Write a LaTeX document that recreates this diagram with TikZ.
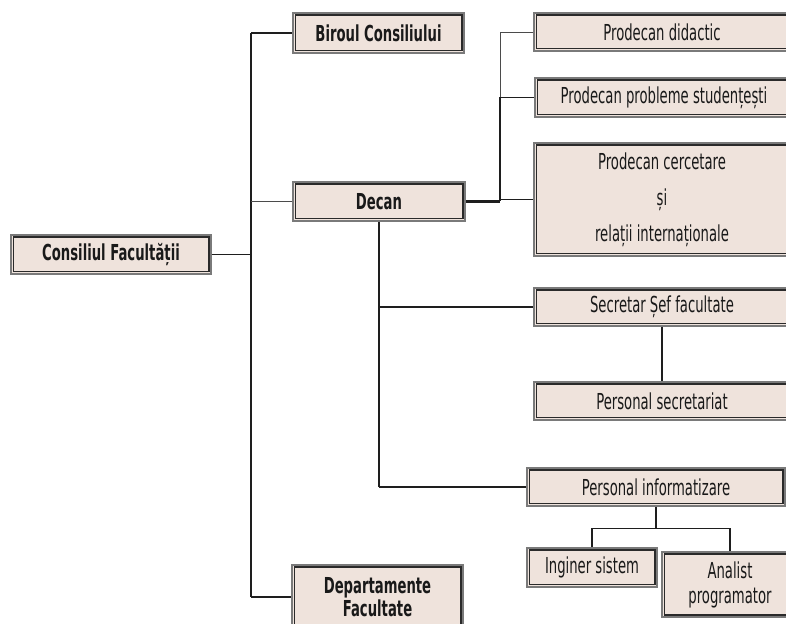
\documentclass[tikz,border=0pt]{standalone}
\usepackage{fontspec}
\setmainfont{DejaVu Sans}[FakeStretch=0.6]
\definecolor{boxfill}{HTML}{EFE3DC}
\definecolor{outerline}{HTML}{7A7A7A}
\definecolor{innerline}{HTML}{2A2A2A}
\definecolor{wire}{HTML}{1E1E1E}
\begin{document}
\begin{tikzpicture}[x=1pt,y=1pt,
  obox/.style={draw=outerline, line width=1.1pt, fill=boxfill, inner sep=0pt,
    align=center, text=black!90, font=\fontsize{22}{25}\selectfont},
  boldbox/.style={obox, font=\fontsize{22}{25}\selectfont\bfseries},
  innerrect/.style={draw=innerline, line width=1.1pt},
  wireline/.style={draw=wire, line width=1.3pt},
  thinwire/.style={draw=wire!80, line width=0.9pt},
  thickwire/.style={draw=wire, line width=2.2pt}]
\path[use as bounding box, clip] (0,0) rectangle (786,623);
\fill[white] (0,0) rectangle (786,623);

% boxes
\node[boldbox, minimum width=200, minimum height=39] (cf) at (111,368.5) {Consiliul Facultății};
\node[boldbox, minimum width=171, minimum height=40] (bc) at (378.5,590) {Biroul Consiliului};
\node[boldbox, minimum width=172, minimum height=39] (dc) at (379,421.5) {Decan};
\node[boldbox, minimum width=171, minimum height=70] (df) at (377.5,23)
  {\raisebox{4pt}{\begin{tabular}{@{}c@{}}Departamente\\[-1pt]Facultate\end{tabular}}};
\node[obox, minimum width=256, minimum height=38] (pd) at (662,591) {Prodecan didactic};
\node[obox, minimum width=258, minimum height=39] (pp) at (664,525.5) {Prodecan probleme studențești};
\node[obox, minimum width=256, minimum height=113, font=\fontsize{22}{36}\selectfont] (pc) at (662,423.5)
  {Prodecan cercetare\\și\\relații internaționale};
\node[obox, minimum width=256, minimum height=38] (ss) at (662,316) {Secretar Șef facultate};
\node[obox, minimum width=256, minimum height=38] (ps) at (662,222) {Personal secretariat};
\node[obox, minimum width=258, minimum height=38] (pi) at (656,136) {Personal informatizare};
\node[obox, minimum width=130, minimum height=39] (is) at (592,55.5) {Inginer sistem};
\node[obox, minimum width=136, minimum height=65] (ap) at (730,38.5) {Analist\\programator};

% inner frame of every box
\foreach \n in {cf,bc,dc,df,pd,pp,pc,ss,ps,pi,is,ap}
  \draw[innerrect] ([shift={(2.6,2.6)}]\n.south west) rectangle ([shift={(-2.6,-2.6)}]\n.north east);

% council trunk
\coordinate (tTop) at (251,590);
\coordinate (tBot) at (251,26);
\draw[wireline] (tTop) -- (tBot);
\draw[wireline] (tTop) -- (bc.west);
\draw[wireline, line width=1.8pt] (cf.east) -- (cf.east -| tTop);
\draw[thinwire, line width=0.6pt] (dc.west) -- (dc.west -| tTop);
\draw[wireline] (tBot) -- (tBot -| df.west);

% dean to vice-deans
\coordinate (vBus) at (500,421.5);
\draw[thickwire] (dc.east) -- (vBus);
\draw[wireline, line width=1.8pt] (vBus) -- (vBus |- pp.west);
\draw[thinwire] (vBus |- pp.west) -- (vBus |- pd.west);
\draw[thinwire] (vBus |- pd.west) -- (pd.west);
\draw[wireline] (vBus |- pp.west) -- (pp.west);
\draw[wireline] (vBus |- pc.west) -- (pc.west);

% dean to secretariat and IT staff
\coordinate (dBot) at (dc.south |- pi.west);
\draw[wireline] (dc.south) -- (dBot);
\draw[wireline] (dc.south |- ss.west) -- (ss.west);
\draw[wireline] (dBot) -- (pi.west);
\draw[wireline] (ss.south) -- (ps.north);

% IT staff to engineers
\coordinate (iBus) at ([yshift=-22]pi.south);
\draw[wireline] (pi.south) -- (iBus) -| (is.north);
\draw[wireline] (iBus) -| (ap.north);
\end{tikzpicture}
\end{document}
